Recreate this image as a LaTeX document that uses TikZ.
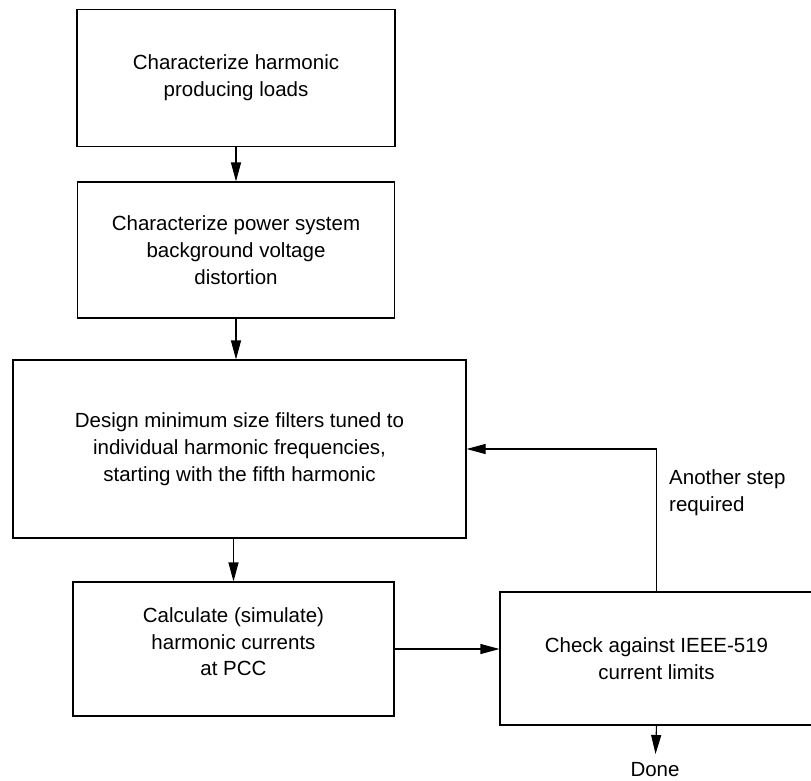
\documentclass[tikz,border=0pt]{standalone}
\usepackage{fontspec}
\setmainfont{Liberation Sans}
\usetikzlibrary{arrows.meta}

\begin{document}
\begin{tikzpicture}[x=1pt, y=-1pt, font=\fontsize{20.5}{26.7}\selectfont,
        stage/.style={draw, line width=1.1pt, align=center, inner sep=0pt},
        flow/.style={-{Triangle[length=19pt, width=10pt]}, line width=1.1pt}]
            \useasboundingbox (0, 0) rectangle (811, 780);

            \node[stage, minimum width=318pt, minimum height=137pt] (loads) at (236, 78) {Characterize harmonic\\producing loads};
            \node[stage, minimum width=317pt, minimum height=136pt] (system) at (236, 250) {Characterize power system\\background voltage\\distortion};
            \node[stage, minimum width=453pt, minimum height=178pt] (filters) at (239.5, 449) {Design minimum size filters tuned to\\individual harmonic frequencies,\\starting with the fifth harmonic};
            \node[stage, minimum width=321pt, minimum height=134pt] (currents) at (233.5, 649) {Calculate (simulate)\\harmonic currents\\at PCC\\[-12pt]};
            \node[stage, minimum width=313pt, minimum height=133pt] (check) at (656.5, 658.5) {Check against IEEE-519\\current limits};

            \node[anchor=west, align=left, inner sep=0pt] (again) at (669, 493) {Another step\\required};
            \node[anchor=north, inner sep=8pt] (done) at (655, 754) {Done};

            \draw[flow] (loads) -- (system);
            \draw[flow] (system.south) -- (system.south |- filters.north);
            \draw[flow] (currents.north |- filters.south) -- (currents.north);
            \draw[flow] (currents.east) -- (check.west |- currents.east);
            \draw[flow] (check.north) |- (filters.east);
            \draw[flow] (check.south) -- (done);
        \end{tikzpicture}
\end{document}
